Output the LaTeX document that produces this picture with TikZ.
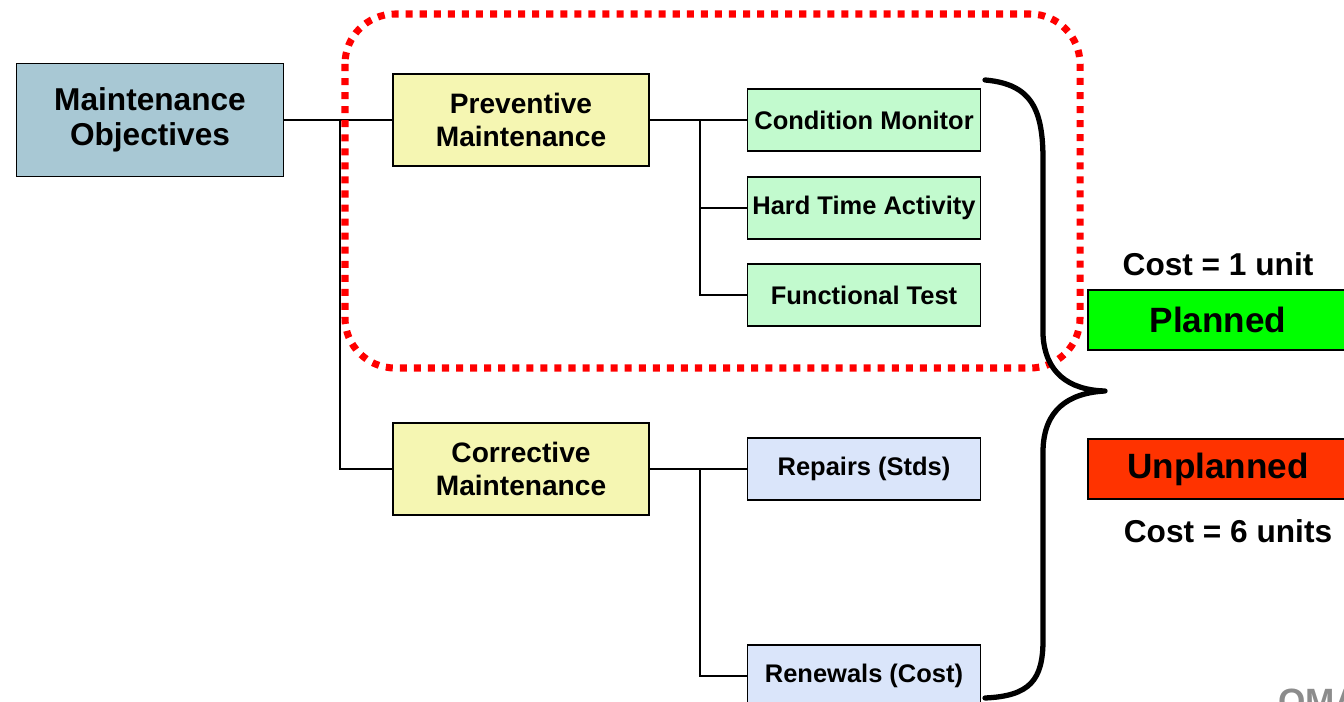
\documentclass[tikz,border=0pt]{standalone}
\usepackage{fontspec}
\setmainfont{Liberation Sans}
\usetikzlibrary{positioning}

\definecolor{objblue}{RGB}{168,200,212}
\definecolor{kindyellow}{RGB}{245,246,178}
\definecolor{taskgreen}{RGB}{194,250,206}
\definecolor{taskblue}{RGB}{218,229,250}
\definecolor{plangreen}{RGB}{0,255,0}
\definecolor{unplanred}{RGB}{255,51,0}

\begin{document}
\begin{tikzpicture}[
		x=0.02cm, y=-0.02cm,
		every box/.style={draw, line width=1pt, inner sep=0pt, align=center},
		box objective/.style={fill=objblue, minimum width=5.34cm, minimum height=2.26cm, font=\bfseries\fontsize{18}{20}\selectfont},
		box kind/.style={fill=kindyellow, minimum width=5.12cm, minimum height=1.84cm, font=\bfseries\fontsize{16}{19}\selectfont},
		box task/.style={minimum width=4.66cm, minimum height=1.24cm, font=\bfseries\fontsize{14.5}{17}\selectfont},
		box cost/.style={minimum width=5.2cm, minimum height=1.2cm, font=\bfseries\fontsize{20}{24}\selectfont},
		cost label/.style={inner sep=0pt, font=\bfseries\fontsize{18}{22}\selectfont},
		link/.style={line width=0.8pt},
		planned zone/.style={draw=red, line width=4pt, dash pattern=on 4pt off 4pt, rounded corners=1cm}
	]
	\useasboundingbox (0,0) rectangle (1344,702);

	\node [every box, box objective] (objectives) at (150,120) {Maintenance\\Objectives};

	\node [every box, box kind] (preventive) at (521,120) {Preventive\\Maintenance};
	\node [every box, box kind] (corrective) at (521,469) {Corrective\\Maintenance};

	\foreach \l/\y [count=\i] in {Condition Monitor/120, Hard Time Activity/208, Functional Test/295}
		\node [every box, box task, fill=taskgreen] (prev-task-\i) at (864,\y) {\l};

	\foreach \l/\y [count=\i] in {Repairs (Stds)/469, Renewals (Cost)/676}
		\node [every box, box task, fill=taskblue] (corr-task-\i) at (864,\y) {\l};

	\node [every box, box cost, fill=plangreen] (planned) at (1218,320) {Planned};
	\node [every box, box cost, fill=unplanred] (unplanned) at (1218,469) {Unplanned};
	\node [cost label, above=0.26cm of planned] (planned-cost) {Cost = 1 unit};
	\node [cost label, below=0.38cm of unplanned, xshift=0.2cm] (unplanned-cost) {Cost = 6 units};

	\coordinate (split-main) at (340,120);
	\coordinate (split-prev) at (700,120);
	\coordinate (split-corr) at (700,469);

	\draw [link] (objectives.east) -- (preventive.west);
	\draw [link] (split-main) |- (corrective.west);

	\draw [link] (preventive.east) -- (prev-task-1.west);
	\foreach \i in {2, 3}
		\draw [link] (split-prev) |- (prev-task-\i.west);

	\draw [link] (corrective.east) -- (corr-task-1.west);
	\draw [link] (split-corr) |- (corr-task-2.west);

	\draw [planned zone] (345,14) rectangle (1080,368);

	% curly brace joining the two branches
	\draw [line width=3pt, line cap=round, line join=round]
		(985,80) .. controls (1032,84) and (1043,110) .. (1043,160) -- (1043,335)
		.. controls (1045,372) and (1068,390) .. (1105,391)
		.. controls (1068,393) and (1044,410) .. (1043,450) -- (1043,640)
		.. controls (1043,680) and (1030,696) .. (985,698);

	\node [anchor=north west, inner sep=0pt, text=black!45, font=\bfseries\fontsize{20}{24}\selectfont] (oma) at (1278,689) {OMA};
\end{tikzpicture}
\end{document}
